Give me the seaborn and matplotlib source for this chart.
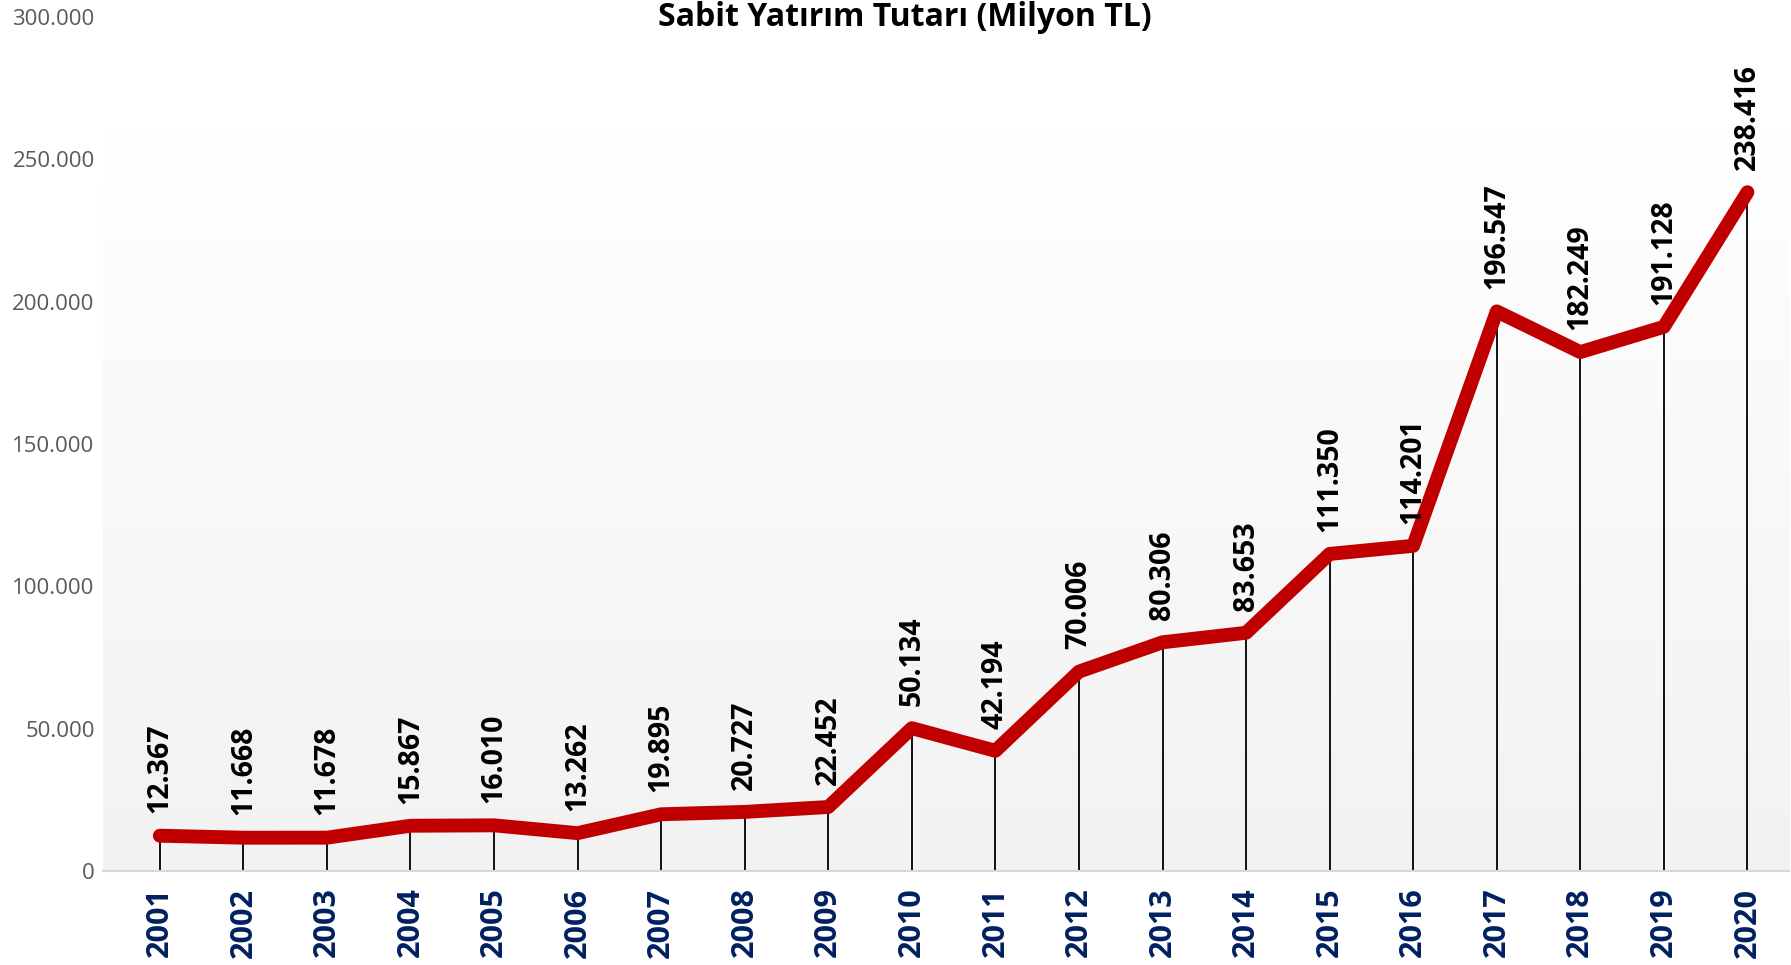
import numpy as np
import pandas as pd
import matplotlib
matplotlib.use("Agg")
import matplotlib.pyplot as plt
import matplotlib.ticker as mticker
import seaborn as sns

# -----------------------------------------------------------------------------
# Data
# -----------------------------------------------------------------------------
years = ["2001", "2002", "2003", "2004", "2005", "2006", "2007", "2008", "2009", "2010",
         "2011", "2012", "2013", "2014", "2015", "2016", "2017", "2018", "2019", "2020"]
values = [12367, 11668, 11678, 15867, 16010, 13262, 19895, 20727, 22452, 50134,
          42194, 70006, 80306, 83653, 111350, 114201, 196547, 182249, 191128, 238416]
y_ticks = [0, 50000, 100000, 150000, 200000, 250000, 300000]

title = "Sabit Yatırım Tutarı (Milyon TL)"

# -----------------------------------------------------------------------------
# Style
# -----------------------------------------------------------------------------
sns.set_theme(style="white")
plt.rcParams['font.family'] = ['Open Sans', 'DejaVu Sans']

line_color = "#C00000"
year_color = "#002060"
tick_color = "#595959"

df = pd.DataFrame({"pos": np.arange(len(years)), "year": years, "value": values})

fig = plt.figure(figsize=(17.91, 9.65), dpi=100)
ax = fig.add_axes([0.0575, 0.0975, 0.9415, 0.885])

# gradient background (white at top, light grey at bottom)
grad = np.linspace(1.0, 0.0, 256).reshape(-1, 1)
ax.imshow(grad, extent=[0, 1, 0, 0.87], transform=ax.transAxes, aspect="auto",
          cmap=matplotlib.colors.LinearSegmentedColormap.from_list("g", ["#f2f2f2", "#ffffff"]),
          zorder=0)

# drop lines
ax.vlines(df["pos"], 0, df["value"], color="black", lw=1.3, zorder=2)

sns.lineplot(x="pos", y="value", data=df, ax=ax, color=line_color, lw=10,
             errorbar=None, zorder=3, solid_capstyle="round", solid_joinstyle="round")

# value labels
for p, v in zip(df["pos"], df["value"]):
    lbl = f"{v:,}".replace(",", ".")
    ax.annotate(lbl, (p, v), xytext=(0, 16), textcoords="offset points",
                rotation=90, ha="center", va="bottom", fontsize=20.5,
                fontweight="bold", color="black", zorder=4)

ax.set_xlim(-0.68, 19.5)
ax.set_ylim(0, 300000)
ax.set_yticks(y_ticks)
ax.yaxis.set_major_formatter(mticker.FuncFormatter(lambda x, _: f"{int(x):,}".replace(",", ".")))
ax.set_xticks(df["pos"])
ax.set_xticklabels(years, rotation=90, fontsize=22, fontweight="bold", color=year_color)
ax.tick_params(axis="y", labelsize=16, labelcolor=tick_color, length=0, pad=6)
ax.tick_params(axis="x", length=0, pad=12)
ax.set_xlabel("")
ax.set_ylabel("")

for s in ["top", "right", "left"]:
    ax.spines[s].set_visible(False)
ax.spines["bottom"].set_color("#d9d9d9")
ax.spines["bottom"].set_linewidth(1.5)
ax.set_facecolor("white")

fig.text(0.505, 0.982, title, ha="center", va="center", fontsize=23,
         fontweight="bold", color="black")

plt.savefig("out.png", dpi=100)
